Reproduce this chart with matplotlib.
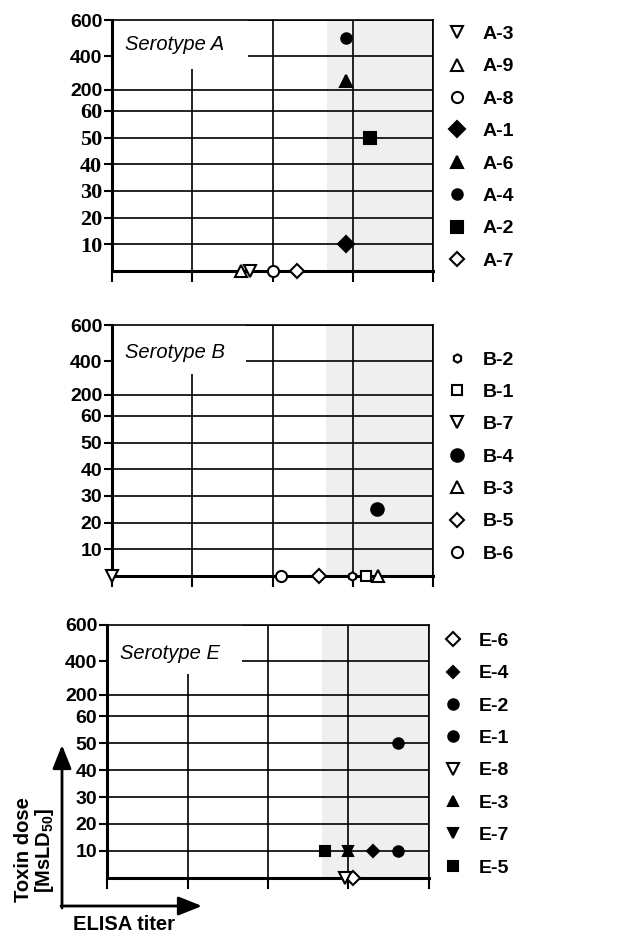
"""
Toxin dose vs ELISA titer, serotypes A, B and E
"""
import numpy as np
import matplotlib
matplotlib.use('Agg')
import matplotlib.pyplot as plt
from matplotlib.patches import Rectangle, FancyArrowPatch

plt.rcParams['font.family'] = ['Liberation Sans', 'DejaVu Sans']
plt.rcParams['mathtext.fontset'] = 'custom'
plt.rcParams['mathtext.bf'] = 'Liberation Sans:bold'
plt.rcParams['mathtext.rm'] = 'Liberation Sans:bold'

# dose levels on the y axis and where they sit (the axis is not linear)
dose_levels = [0, 10, 20, 30, 40, 50, 60, 200, 400, 600]
level_pos = [0, 1, 2, 3, 4, 5, 6, 6.8, 8.05, 9.4]
tick_labels = ['10', '20', '30', '40', '50', '60', '200', '400', '600']

# ELISA titer in grid units (0..4), shaded zone start
shade_a, shade_b, shade_e = 2.68, 2.67, 2.67

# serotype A
a_names = ['A-3', 'A-9', 'A-8', 'A-1', 'A-6', 'A-4', 'A-2', 'A-7']
a_titer = [1.72, 1.61, 2.01, 2.91, 2.91, 2.91, 3.21, 2.31]
a_dose = [0, 0, 0, 10, 250, 500, 50, 0]
a_marker = ['v', '^', 'o', 'D', '^', 'o', 's', 'D']
a_filled = [False, False, False, True, True, True, True, False]
a_size = [8, 8, 8, 8, 9, 7.5, 9, 7.5]

# serotype B
b_names = ['B-2', 'B-1', 'B-7', 'B-4', 'B-3', 'B-5', 'B-6']
b_titer = [2.99, 3.16, 0.0, 3.30, 3.31, 2.58, 2.10]
b_dose = [0, 0, 0, 25, 0, 0, 0]
b_marker = ['h', 's', 'v', 'o', '^', 'D', 'o']
b_filled = [False, False, False, True, False, False, False]
b_size = [6, 7.5, 8, 9, 8, 7.5, 8]

# serotype E
e_names = ['E-6', 'E-4', 'E-2', 'E-1', 'E-8', 'E-3', 'E-7', 'E-5']
e_titer = [3.05, 3.31, 3.61, 3.61, 2.96, 3.0, 3.0, 2.71]
e_dose = [0, 10, 50, 10, 0, 10, 10, 10]
e_marker = ['D', 'D', 'o', 'o', 'v', '^', 'v', 's']
e_filled = [False, True, True, True, False, True, True, True]
e_size = [7.5, 6.5, 7.5, 7.5, 8, 7.5, 7.5, 7.5]


def forward(y):
    return np.interp(y, dose_levels, level_pos)


def inverse(p):
    return np.interp(p, level_pos, dose_levels)


fig = plt.figure(figsize=(6.42, 9.36), dpi=100)


def panel(rect, title, title_y, box_w, names, titer, dose, markers, filled, sizes,
          shade, legend_y, serif_small=False):
    ax = fig.add_axes(rect)
    ax.set_yscale('function', functions=(forward, inverse))
    ax.set_ylim(0, 600)
    ax.set_xlim(0, 4)
    ax.axvspan(shade, 4, color='#efefef', lw=0, zorder=0.3)

    ax.set_yticks(dose_levels[1:])
    ax.set_yticklabels(tick_labels)
    ax.set_xticks([0, 1, 2, 3, 4])
    ax.set_xticklabels([])
    ax.grid(True, color='black', lw=1.2)
    ax.tick_params(axis='y', direction='out', length=6, width=1.5, pad=1)
    ax.tick_params(axis='x', direction='out', length=8, width=1.5)
    for lab in ax.get_yticklabels():
        lab.set_fontweight('bold')
        lab.set_fontsize(14)
        if serif_small and lab.get_text() in ('10', '20', '30', '40', '50', '60'):
            lab.set_family('Liberation Serif')
            lab.set_fontsize(16)
    for side in ('left', 'bottom'):
        ax.spines[side].set_linewidth(2.2)
    for side in ('top', 'right'):
        ax.spines[side].set_linewidth(1.2)

    # white box behind the serotype label
    ax.add_patch(Rectangle((0, 0.805), box_w, 0.195, transform=ax.transAxes,
                           facecolor='white', edgecolor='none', zorder=1.8))
    ax.text(0.04, title_y, title, transform=ax.transAxes, fontsize=14.5,
            style='italic', va='center', ha='left', zorder=3)

    handles = []
    for n, x, y, m, f, s in zip(names, titer, dose, markers, filled, sizes):
        h, = ax.plot([x], [y], ls='none', marker=m, ms=s,
                     mfc='black' if f else 'white', mec='black', mew=1.5,
                     clip_on=False, zorder=5, label=n)
        handles.append(h)
    ax.legend(handles=handles, loc='center left', bbox_to_anchor=(1.045, legend_y),
              frameon=False, prop={'weight': 'bold', 'size': 14},
              handlelength=0.95, handletextpad=0.85, labelspacing=0.76,
              borderpad=0, borderaxespad=0)
    return ax


panel([0.1745, 0.7105, 0.5, 0.268], 'Serotype A', 0.904, 0.424,
      a_names, a_titer, a_dose, a_marker, a_filled, a_size, shade_a, 0.492,
      serif_small=True)
panel([0.1745, 0.3846, 0.5, 0.268], 'Serotype B', 0.89, 0.416,
      b_names, b_titer, b_dose, b_marker, b_filled, b_size, shade_b, 0.475)
panel([0.1667, 0.0623, 0.5015, 0.27], 'Serotype E', 0.889, 0.418,
      e_names, e_titer, e_dose, e_marker, e_filled, e_size, shade_e, 0.4875)

# axis arrows and labels at bottom-left
W, H = 642.0, 936.0
style = '-|>,head_length=0.8,head_width=0.32'
fig.add_artist(FancyArrowPatch((62 / W, 1 - 908 / H), (62 / W, 1 - 745 / H),
                               transform=fig.transFigure, arrowstyle=style,
                               mutation_scale=18, lw=2, color='black',
                               shrinkA=0, shrinkB=0))
fig.add_artist(FancyArrowPatch((61 / W, 1 - 906 / H), (202 / W, 1 - 906 / H),
                               transform=fig.transFigure, arrowstyle=style,
                               mutation_scale=18, lw=2, color='black',
                               shrinkA=0, shrinkB=0))
fig.text(35 / W, 1 - 850 / H, 'Toxin dose\n[MsLD$_\\mathbf{50}$]', rotation=90,
         ha='center', va='center', fontsize=14.5, fontweight='bold',
         multialignment='center', linespacing=1.05)
fig.text(73 / W, 1 - 924 / H, 'ELISA titer', ha='left', va='center',
         fontsize=14.5, fontweight='bold')

fig.savefig('out.png', dpi=100)
